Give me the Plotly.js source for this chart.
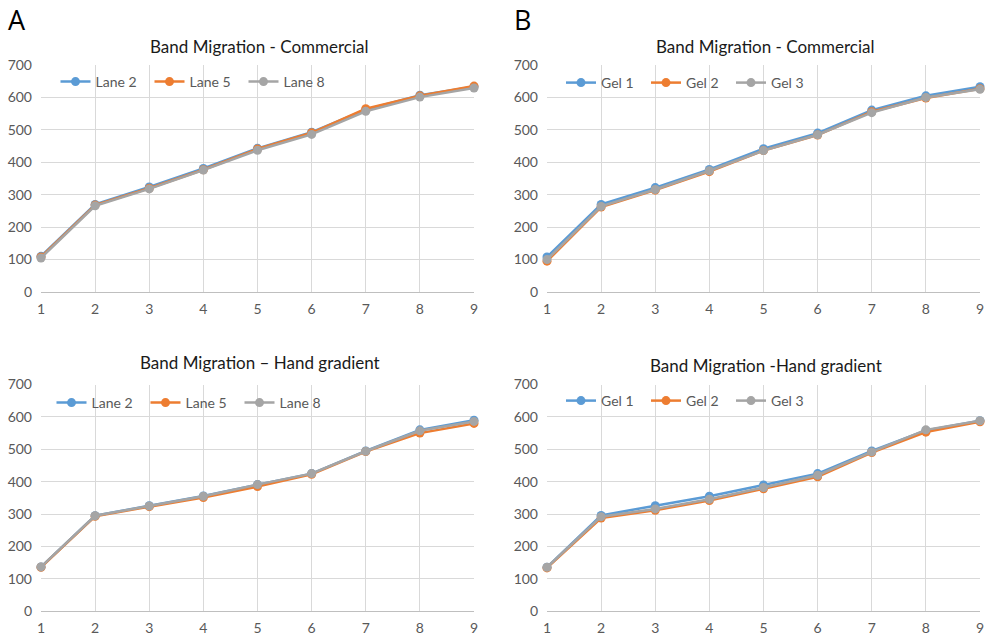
<!DOCTYPE html>
<html><head><meta charset="utf-8">
<script src="https://cdn.plot.ly/plotly-3.0.1.min.js"></script>
<style>html,body{margin:0;padding:0;background:#fff}#chart{width:991px;height:635px}</style>
</head><body><div id="chart"></div>
<script>
const xs = [1,2,3,4,5,6,7,8,9];
const seriesNamesA = ["Lane 2","Lane 5","Lane 8"];
const seriesNamesB = ["Gel 1","Gel 2","Gel 3"];
const titles = ["Band Migration - Commercial","Band Migration - Commercial","Band Migration \u2013 Hand gradient","Band Migration -Hand gradient"];
const panelLabels = ["A","B"];
// Commercial, lanes
const comLane2 = [110,270,324,381,443,493,562,607,633];
const comLane5 = [108,268,320,377,441,491,565,605,635];
const comLane8 = [105,266,318,376,437,486,557,601,629];
// Commercial, gels
const comGel1 = [108,270,322,378,442,490,561,605,633];
const comGel2 = [95,262,314,371,436,484,556,598,627];
const comGel3 = [100,264,316,374,436,485,553,600,625];
// Hand gradient, lanes
const handLane2 = [137,295,326,356,391,425,495,560,590];
const handLane5 = [136,293,323,351,385,423,493,550,580];
const handLane8 = [137,295,325,355,391,425,494,557,586];
// Hand gradient, gels
const handGel1 = [136,296,326,355,390,425,495,558,588];
const handGel2 = [134,288,312,342,378,415,490,553,585];
const handGel3 = [136,292,316,346,382,420,492,560,588];

const colors = ["#5B9BD5","#ED7D31","#A5A5A5"];
const font = "Lato, 'Open Sans', sans-serif";
const panels = [
  {names: seriesNamesA, data:[comLane2,comLane5,comLane8], xa:"x", ya:"y", leg:"legend"},
  {names: seriesNamesB, data:[comGel1,comGel2,comGel3], xa:"x2", ya:"y2", leg:"legend2"},
  {names: seriesNamesA, data:[handLane2,handLane5,handLane8], xa:"x3", ya:"y3", leg:"legend3"},
  {names: seriesNamesB, data:[handGel1,handGel2,handGel3], xa:"x4", ya:"y4", leg:"legend4"}
];
const traces = [];
panels.forEach(p => {
  p.data.forEach((d,i) => {
    traces.push({x: xs, y: d, name: p.names[i], type:"scatter", mode:"lines+markers",
      xaxis: p.xa, yaxis: p.ya, legend: p.leg, cliponaxis:false,
      line:{color:colors[i], width:2.5}, marker:{color:colors[i], size:9}});
  });
});
const W=991,H=635;
const xdA=[41/W,474/W], xdB=[547/W,980/W];
const ydT=[(H-292)/H,(H-65)/H], ydB=[(H-611.3)/H,(H-384.5)/H];
function xax(dom, anchor){return {domain:dom, anchor:anchor, range:[1,9], dtick:1, tick0:1, showgrid:true, gridcolor:"#d9d9d9", gridwidth:1,
  zeroline:false, showline:true, linecolor:"#bfbfbf", linewidth:1, ticks:"", ticklabelstandoff:4,
  tickfont:{family:font,size:14,color:"#595959"}, fixedrange:true};}
function yax(dom, anchor){return {domain:dom, anchor:anchor, range:[0,700], dtick:100, showgrid:true, gridcolor:"#d9d9d9", gridwidth:1,
  zeroline:false, showline:false, ticks:"", ticklabelstandoff:8,
  tickfont:{family:font,size:14,color:"#595959"}, fixedrange:true};}
function leg(x,y,ew){return {orientation:"h", x:x, y:y, xanchor:"left", yanchor:"middle", bgcolor:"rgba(0,0,0,0)",
  font:{family:font,size:14,color:"#595959"}, itemwidth:30, entrywidth:ew, entrywidthmode:"pixels", tracegroupgap:0};}
const annotations = [];
const titlePos = [[259.5,46],[765.5,46],[259.5,362],[766,365]];
titles.forEach((t,i)=>{annotations.push({text:t, xref:"paper", yref:"paper", x:titlePos[i][0]/W, y:1-titlePos[i][1]/H,
  xanchor:"center", yanchor:"middle", showarrow:false, font:{family:font,size:17,color:"#1a1a1a"}});});
annotations.push({text:panelLabels[0], xref:"paper", yref:"paper", x:6/W, y:1-20/H, xanchor:"left", yanchor:"middle", showarrow:false, font:{family:"'Open Sans', sans-serif",size:27,color:"#000"}});
annotations.push({text:panelLabels[1], xref:"paper", yref:"paper", x:512/W, y:1-20/H, xanchor:"left", yanchor:"middle", showarrow:false, font:{family:"'Open Sans', sans-serif",size:27,color:"#000"}});
const layout = {
  width:W, height:H, margin:{l:0,r:0,t:0,b:0}, paper_bgcolor:"#fff", plot_bgcolor:"#fff",
  xaxis:xax(xdA,"y"), yaxis:yax(ydT,"x"),
  xaxis2:xax(xdB,"y2"), yaxis2:yax(ydT,"x2"),
  xaxis3:xax(xdA,"y3"), yaxis3:yax(ydB,"x3"),
  xaxis4:xax(xdB,"y4"), yaxis4:yax(ydB,"x4"),
  legend:leg(55.5/W,1-82/H,49), legend2:leg(561/W,1-83/H,40), legend3:leg(51.5/W,1-403/H,49), legend4:leg(561/W,1-401/H,40),
  annotations:annotations, showlegend:true, font:{family:font}
};
Plotly.newPlot("chart", traces, layout, {displayModeBar:false, staticPlot:true});
</script></body></html>
